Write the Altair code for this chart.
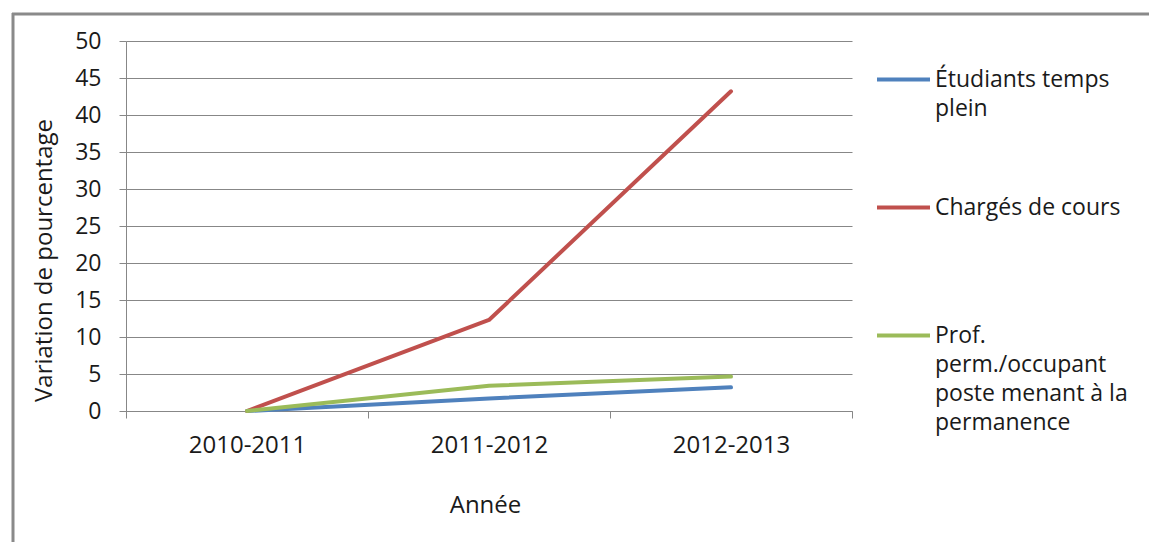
import json
import altair as alt
import pandas as pd

# ---------------- data ----------------
categories = ["2010-2011", "2011-2012", "2012-2013"]
series_names = [
    "Étudiants temps plein",
    "Chargés de cours",
    "Prof. perm./occupant poste menant à la permanence",
]
etudiants = [0.0, 1.7, 3.2]
charges = [0.0, 12.3, 43.2]
prof = [0.0, 3.4, 4.65]
colors = ["#4F81BD", "#C0504D", "#9BBB59"]
legend_lines = [
    ["Étudiants temps", "plein"],
    ["Chargés de cours"],
    ["Prof.", "perm./occupant", "poste menant à la", "permanence"],
]
y_ticks = list(range(0, 55, 5))

rows = []
for name, vals in zip(series_names, [etudiants, charges, prof]):
    for cat, v in zip(categories, vals):
        rows.append({"Année": cat, "Série": name, "Valeur": v})
df = pd.DataFrame(rows)

# legend labels: multi-line; pad at the end so that every entry has equal height
n_lines = max(len(l) for l in legend_lines)


def padded(lines):
    return lines + [""] * (n_lines - len(lines))


expr = '""'
for name, lines in reversed(list(zip(series_names, legend_lines))):
    expr = (f"datum.label === {json.dumps(name, ensure_ascii=False)} ? "
            f"{json.dumps(padded(lines), ensure_ascii=False)} : ({expr})")

FONT = "Open Sans"
GRAY = "#878787"

# ---------------- chart ----------------
one = alt.Data(values=[{"k": 0}])
border_top = alt.Chart(one).mark_rule(color="#8a8a8a", strokeWidth=3).encode(
    x=alt.value(-114), x2=alt.value(1030), y=alt.value(-27)
)
border_left = alt.Chart(one).mark_rule(color="#8a8a8a", strokeWidth=3).encode(
    x=alt.value(-113), y=alt.value(-28), y2=alt.value(510)
)

lines = alt.Chart(df).mark_line(strokeWidth=4, strokeCap="round", strokeJoin="round").encode(
    x=alt.X(
        "Année:N",
        sort=categories,
        scale=alt.Scale(type="band", paddingInner=0, paddingOuter=0),
        axis=alt.Axis(
            title="Année",
            tickBand="extent",
            labelAngle=0,
            grid=False,
            tickSize=7,
            labelPadding=15,
            labelFontSize=24,
            labelBaseline="top",
            titleX=359,
            titleY=101,
            titleAlign="center",
            titleBaseline="alphabetic",
        ),
    ),
    y=alt.Y(
        "Valeur:Q",
        scale=alt.Scale(domain=[0, 50], nice=False, zero=True),
        axis=alt.Axis(
            values=y_ticks,
            title="Variation de pourcentage",
            grid=True,
            tickSize=7,
            labelPadding=18,
            labelFontSize=23,
            titleX=-82,
            titleY=219,
            titleAngle=270,
            titleAlign="center",
            titleBaseline="middle",
        ),
    ),
    color=alt.Color(
        "Série:N",
        sort=series_names,
        scale=alt.Scale(domain=series_names, range=colors),
        legend=alt.Legend(
            title=None,
            orient="none",
            legendX=749,
            legendY=10,
            symbolType="stroke",
            symbolSize=2809,
            symbolStrokeWidth=4,
            labelExpr=expr,
            labelFont=FONT,
            labelFontSize=23,
            labelColor="#1a1a1a",
            labelLimit=500,
            labelOffset=3,
            labelBaseline="middle",
            rowPadding=0,
            padding=0,
        ),
    ),
)

chart = (
    alt.layer(border_top, border_left, lines)
    .properties(
        width=726,
        height=370,
        autosize=alt.AutoSizeParams(type="none"),
        padding={"left": 126, "top": 41, "right": 297, "bottom": 131},
    )
    .configure_view(stroke=None)
    .configure_axis(
        labelFont=FONT,
        titleFont=FONT,
        titleFontSize=24,
        titleFontWeight="normal",
        labelColor="#1a1a1a",
        titleColor="#1a1a1a",
        gridColor=GRAY,
        gridWidth=1,
        domainColor=GRAY,
        domainWidth=1,
        tickColor=GRAY,
        tickWidth=1,
    )
)
chart.config.style = {"guide-label": {"lineHeight": 29}}

chart.save("out.html", embed_options={"renderer": "svg", "actions": False})
